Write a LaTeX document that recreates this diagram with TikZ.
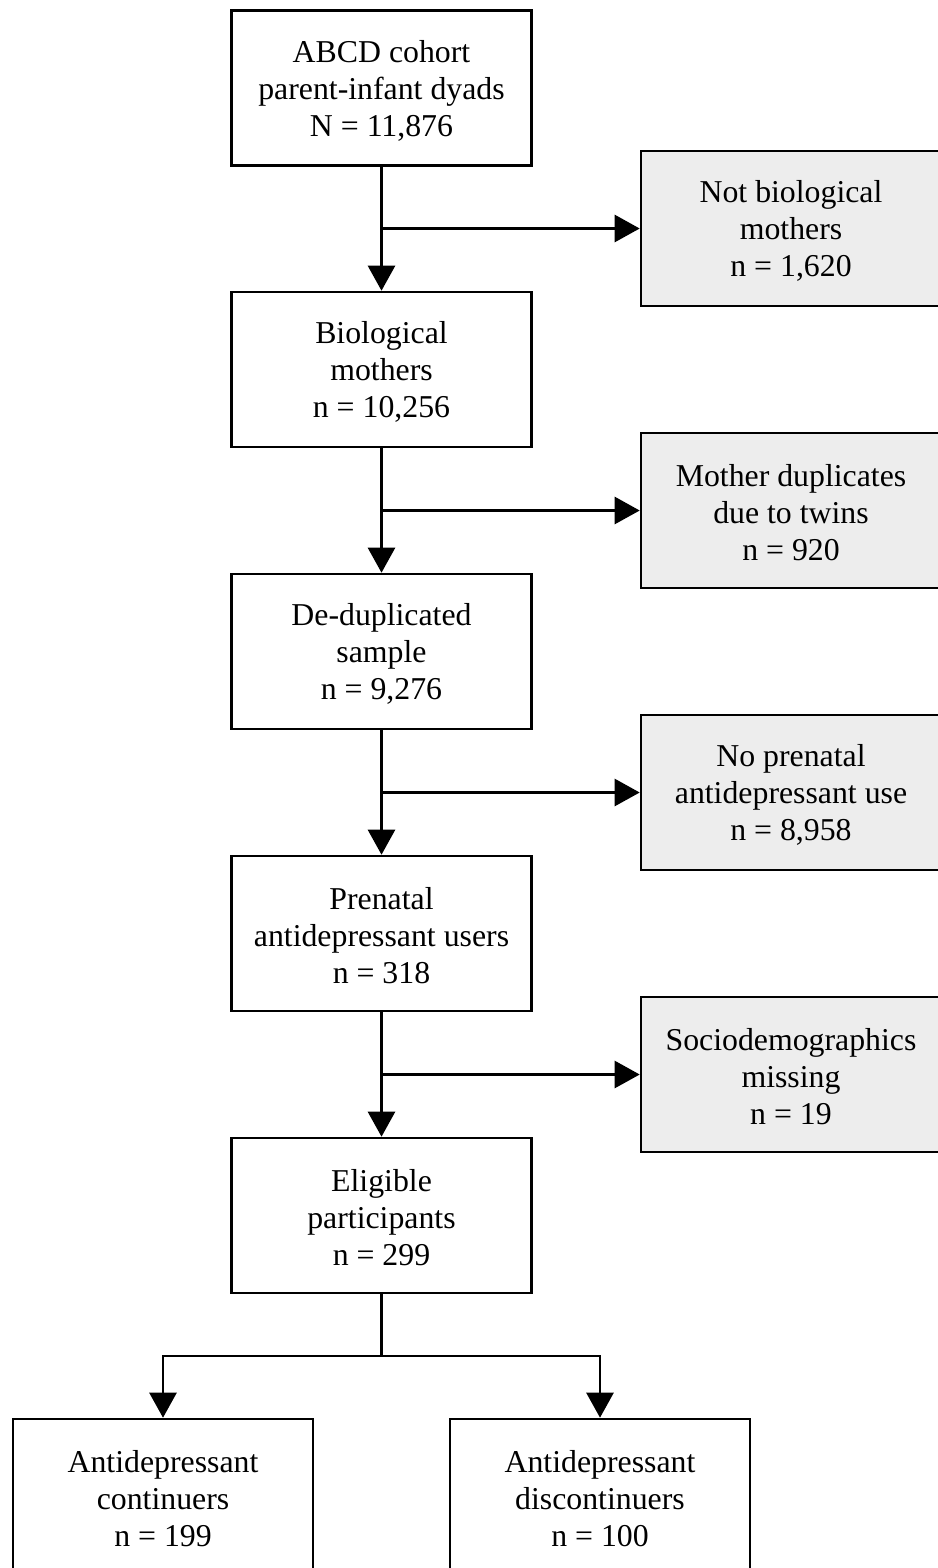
\documentclass[tikz,border=0pt]{standalone}
\usepackage{fontspec}
\setmainfont{Liberation Serif}
\usetikzlibrary{arrows.meta}
\definecolor{sidegray}{HTML}{EDEDED}
\newcommand{\topstrut}{\rule{0pt}{27pt}}
\begin{document}
\begin{tikzpicture}[x=1pt,y=-1pt,
  box/.style={draw=black,line width=2.6pt,minimum width=300pt,minimum height=155pt,
    align=center,inner sep=0pt,font=\fontsize{31.8}{37}\selectfont,fill=white},
  sidebox/.style={box,fill=sidegray},
  conn/.style={line width=2.6pt},
  arr/.style={conn,-{Triangle[width=27pt,length=25pt]}}]
\useasboundingbox (0,0) rectangle (937,1568);
\node[box] (b1) at (381.5,88) {\topstrut ABCD cohort\\parent-infant dyads\\N = 11,876};
\node[box] (b2) at (381.5,369.5) {\topstrut Biological\\mothers\\n = 10,256};
\node[box] (b3) at (381.5,651.5) {\topstrut De-duplicated\\sample\\n = 9,276};
\node[box] (b4) at (381.5,933.5) {\topstrut Prenatal\\antidepressant users\\n = 318};
\node[box] (b5) at (381.5,1215.5) {\topstrut Eligible\\participants\\n = 299};
\node[sidebox] (s1) at (791,228.5) {\topstrut Not biological\\mothers\\n = 1,620};
\node[sidebox] (s2) at (791,510.5) {\topstrut Mother duplicates\\due to twins\\n = 920};
\node[sidebox] (s3) at (791,792.5) {\topstrut No prenatal\\antidepressant use\\n = 8,958};
\node[sidebox] (s4) at (791,1074.5) {\topstrut Sociodemographics\\missing\\n = 19};
\node[box] (c1) at (163,1496.5) {\topstrut Antidepressant\\continuers\\n = 199};
\node[box] (c2) at (600,1496.5) {\topstrut Antidepressant\\discontinuers\\n = 100};
\coordinate (j1) at (381.5,228.5);
\coordinate (j2) at (381.5,510.5);
\coordinate (j3) at (381.5,792.5);
\coordinate (j4) at (381.5,1074.5);
\draw[arr] (b1.south) -- (b2.north);
\draw[arr] (j1) -- (s1.west);
\draw[arr] (b2.south) -- (b3.north);
\draw[arr] (j2) -- (s2.west);
\draw[arr] (b3.south) -- (b4.north);
\draw[arr] (j3) -- (s3.west);
\draw[arr] (b4.south) -- (b5.north);
\draw[arr] (j4) -- (s4.west);
\coordinate (sp) at (381.5,1356);
\draw[conn] (b5.south) -- (sp);
\draw[arr] (sp) -| (c1.north);
\draw[arr] (sp) -| (c2.north);
\end{tikzpicture}
\end{document}
